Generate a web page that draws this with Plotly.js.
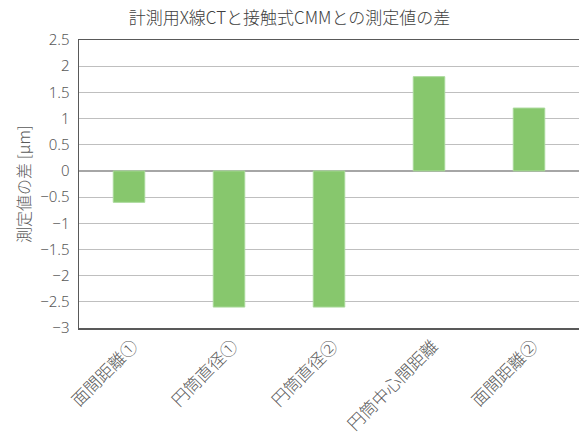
<!DOCTYPE html>
<html>
<head>
<meta charset="utf-8">
<script src="https://cdn.plot.ly/plotly-3.0.1.min.js"></script>
<style>html,body{margin:0;padding:0;background:#fff;}#chart{width:579px;height:438px;}</style>
</head>
<body>
<div id="chart"></div>
<script>
const categories = ['面間距離①', '円筒直径①', '円筒直径②', '円筒中心間距離', '面間距離②'];
const values = [-0.6, -2.6, -2.6, 1.8, 1.2];
const yTickVals = [2.5, 2, 1.5, 1, 0.5, 0, -0.5, -1, -1.5, -2, -2.5, -3];
const yTickText = ['2.5', '2', '1.5', '1', '0.5', '0', '−0.5', '−1', '−1.5', '−2', '−2.5', '−3'];

const FONT = '"Noto Sans CJK JP", "Noto Sans", sans-serif';
const NUMFONT = '"Noto Sans", "Open Sans", sans-serif';

const data = [{
  type: 'bar',
  x: categories,
  y: values,
  marker: { color: '#87c76d', line: { color: '#a9d99a', width: 1 } },
  hoverinfo: 'none'
}];

const layout = {
  width: 579,
  height: 438,
  margin: { l: 79, r: 0, t: 39.5, b: 110 },
  paper_bgcolor: '#ffffff',
  plot_bgcolor: '#ffffff',
  font: { family: FONT, color: '#595959', size: 15 },
  bargap: 0.685,
  showlegend: false,
  title: {
    text: '計測用X線CTと接触式CMMとの測定値の差',
    font: { family: FONT, size: 17, color: '#404040', weight: 300 },
    x: 0.5, xref: 'container', xanchor: 'center', y: 1 - 18 / 438, yref: 'container', yanchor: 'middle'
  },
  xaxis: {
    type: 'category',
    tickangle: -45,
    automargin: false,
    tickfont: { family: FONT, size: 17, color: '#595959', weight: 300 },
    ticklabelshift: 4,
    showline: true, linecolor: '#595959', linewidth: 1.5, mirror: true,
    showgrid: false, ticks: '', zeroline: false
  },
  yaxis: {
    range: [-3, 2.5],
    automargin: false,
    tickvals: yTickVals,
    ticktext: yTickText,
    tickfont: { family: NUMFONT, size: 15, color: '#595959', weight: 300 },
    ticklabelstandoff: 5,
    showline: true, linecolor: '#595959', linewidth: 1.5, mirror: false,
    showgrid: true, gridcolor: '#bfbfbf', gridwidth: 1,
    zeroline: true, zerolinecolor: '#a6a6a6', zerolinewidth: 1.5,
    ticks: '', ticklen: 0,
    title: { text: '測定値の差 [μm]', font: { family: FONT, size: 16, color: '#595959', weight: 300 }, standoff: 5 }
  }
};

Plotly.newPlot('chart', data, layout, { staticPlot: true, displayModeBar: false });
</script>
</body>
</html>
